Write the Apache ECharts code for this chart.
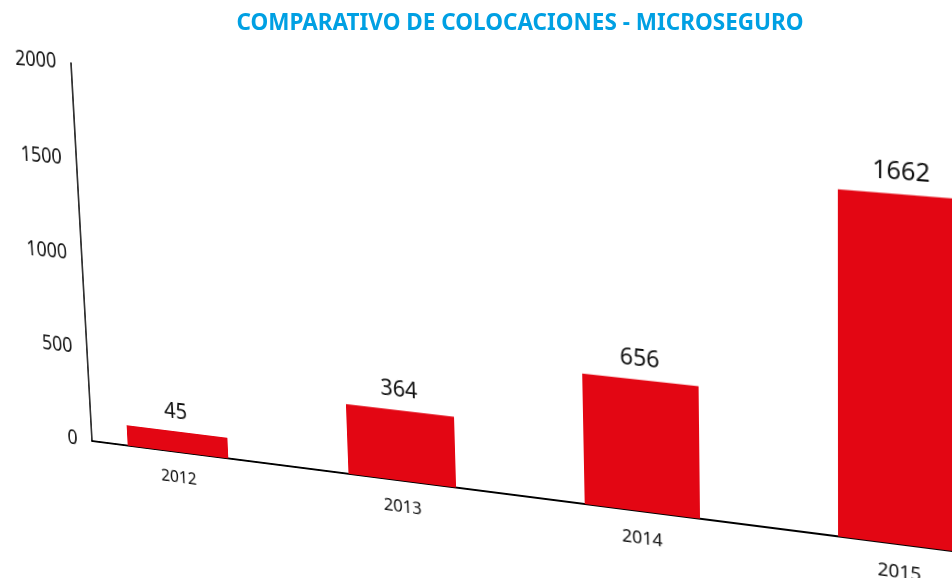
<!DOCTYPE html>
<html>
<head>
<meta charset="utf-8">
<script src="https://cdn.jsdelivr.net/npm/echarts@6/dist/echarts.min.js"></script>
<style>
  html, body { margin: 0; padding: 0; background: #fff; overflow: hidden; }
  #page { position: relative; width: 952px; height: 578px; overflow: hidden; }
  #plot { position: absolute; left: 0; top: 0; width: 1200px; height: 520px; transform-origin: 0 0; }
  #title { position: absolute; left: 88px; top: 0; width: 864px; height: 50px; }
</style>
</head>
<body>
<div id="page">
  <div id="plot"></div>
  <div id="title"></div>
</div>
<script>
// datos del grafico
const years = [2012, 2013, 2014, 2015]
const placements = [45, 364, 656, 1662]
const valueTicks = [0, 500, 1000, 1500, 2000]
const chartTitle = 'COMPARATIVO DE COLOCACIONES - MICROSEGURO'

const font = 'Noto Sans'
const ink = '#000'

// rango del eje x (en años) para dejar el hueco antes de la primera barra
const xMin = 2011.6
const xMax = 2015.8
const xFar = 2014.787

const plot = echarts.init(document.getElementById('plot'))
plot.setOption({
  animation: false,
  grid: { left: 100, top: 60, width: 1050, height: 400, outerBoundsMode: 'none' },
  xAxis: {
    type: 'value',
    min: xMin,
    max: xMax,
    axisLine: { show: true, onZero: false, lineStyle: { color: ink, width: 1.8 } },
    axisTick: { show: false },
    splitLine: { show: false },
    axisLabel: {
      customValues: years,
      formatter: v => String(v),
      margin: 19,
      fontSize: 18,
      color: '#111',
      fontFamily: font
    }
  },
  yAxis: {
    type: 'value',
    min: valueTicks[0],
    max: valueTicks[valueTicks.length - 1],
    interval: valueTicks[1] - valueTicks[0],
    axisLine: { show: true, onZero: false, lineStyle: { color: ink, width: 1.6 } },
    axisTick: { show: false },
    splitLine: { show: false },
    axisLabel: {
      formatter: v => String(v),
      margin: 17,
      fontSize: 21,
      color: '#111',
      fontFamily: font
    }
  },
  series: [{
    type: 'bar',
    data: years.map((y, i) => [y, placements[i]]),
    barWidth: 116,
    barMinHeight: 22,
    itemStyle: { color: '#e30613' },
    label: {
      show: true,
      position: 'top',
      distance: 9,
      fontSize: 23,
      color: '#111',
      fontFamily: font
    }
  }]
})

// perspectiva: se ajusta una homografia con 4 puntos del plano del grafico
function homography(src, dst) {
  const A = []
  const b = []
  for (let i = 0; i < 4; i++) {
    const u = src[i][0], v = src[i][1], x = dst[i][0], y = dst[i][1]
    A.push([u, v, 1, 0, 0, 0, -u * x, -v * x]); b.push(x)
    A.push([0, 0, 0, u, v, 1, -u * y, -v * y]); b.push(y)
  }
  const n = 8
  for (let c = 0; c < n; c++) {
    let p = c
    for (let r = c + 1; r < n; r++) if (Math.abs(A[r][c]) > Math.abs(A[p][c])) p = r
    let t = A[c]; A[c] = A[p]; A[p] = t
    t = b[c]; b[c] = b[p]; b[p] = t
    for (let r = 0; r < n; r++) {
      if (r === c) continue
      const f = A[r][c] / A[c][c]
      for (let k = c; k < n; k++) A[r][k] -= f * A[c][k]
      b[r] -= f * b[c]
    }
  }
  return b.map((val, i) => val / A[i][i])
}

const yTop = valueTicks[valueTicks.length - 1]
const toPx = p => plot.convertToPixel({ xAxisIndex: 0, yAxisIndex: 0 }, p)
const src = [toPx([xMin, 0]), toPx([xMin, yTop]), toPx([xFar, 0]), toPx([xFar, yTop])]
const dst = [[92, 441], [71, 63], [843, 537], [843, 117]]
const h = homography(src, dst).map(v => v.toFixed(10))
document.getElementById('plot').style.transform =
  'matrix3d(' + [h[0], h[3], 0, h[6], h[1], h[4], 0, h[7], 0, 0, 1, 0, h[2], h[5], 0, 1].join(',') + ')'

const titleChart = echarts.init(document.getElementById('title'))
titleChart.setOption({
  animation: false,
  title: {
    text: chartTitle,
    left: 'center',
    top: 7,
    textStyle: { color: '#00a0e3', fontSize: 22.5, fontWeight: 'bold', fontFamily: font }
  }
})
</script>
</body>
</html>
